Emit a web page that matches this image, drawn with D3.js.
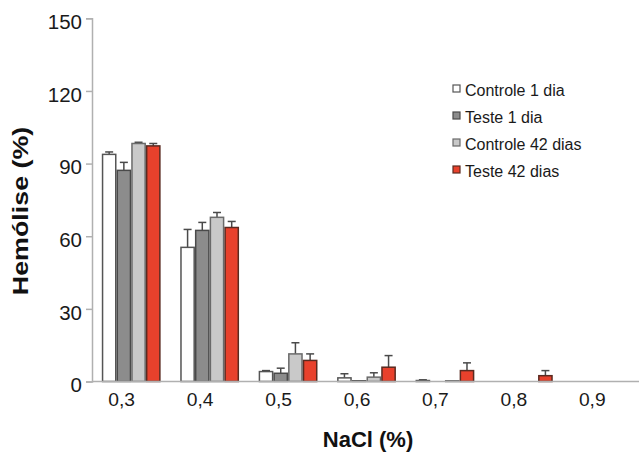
<!DOCTYPE html>
<html>
<head>
<meta charset="utf-8">
<script src="https://cdn.jsdelivr.net/npm/d3@7"></script>
<style>
  html, body { margin: 0; padding: 0; background: #fff; }
  svg { display: block; font-family: "Liberation Sans", Arial, Helvetica, sans-serif; }
</style>
</head>
<body>
<svg id="chart" width="639" height="452"></svg>
<script>
// ---- data ----
const categories = ["0,3", "0,4", "0,5", "0,6", "0,7", "0,8", "0,9"];
const seriesNames = ["Controle 1 dia", "Teste 1 dia", "Controle 42 dias", "Teste 42 dias"];
const controle1 = [93.8, 55.4, 4.1, 1.5, 0.4, 0, 0];
const controle1Err = [1.0, 7.4, 0.4, 1.7, 0.3, 0, 0];
const teste1 = [87.2, 62.4, 3.4, 0.3, 0, 0, 0];
const teste1Err = [3.3, 3.3, 2.1, 0, 0, 0, 0];
const controle42 = [98.3, 67.8, 11.4, 1.8, 0.3, 0, 0];
const controle42Err = [0.5, 2.0, 4.6, 1.8, 0, 0, 0];
const teste42 = [97.3, 63.6, 8.7, 5.9, 4.5, 2.4, 0];
const teste42Err = [1.0, 2.5, 2.7, 4.8, 3.2, 2.1, 0];
const yTicks = [0, 30, 60, 90, 120, 150];

const seriesValues = [controle1, teste1, controle42, teste42];
const seriesErrors = [controle1Err, teste1Err, controle42Err, teste42Err];
const fills = ["#ffffff", "#8c8c8c", "#c9c9c9", "#e8412c"];
const strokes = ["#555555", "#4a4a4a", "#6a6a6a", "#5a2a20"];

const svg = d3.select("#chart");
const x = d3.scaleBand().domain(categories).range([92, 641]).paddingInner(0.25).paddingOuter(0.125);
const xs = d3.scaleBand().domain(seriesNames).range([0, x.bandwidth()]);
const y = d3.scaleLinear().domain([0, 150]).range([381.5, 18.3]);

// y axis
const yAxis = svg.append("g").attr("transform", "translate(92,0)")
  .call(d3.axisLeft(y).tickValues(yTicks).tickSize(6).tickPadding(4));
yAxis.select(".domain").attr("stroke", "#b0b0b0").attr("stroke-width", 1.5);
yAxis.selectAll(".tick line").attr("stroke", "#b0b0b0").attr("stroke-width", 1.5);
yAxis.selectAll(".tick text").attr("font-size", 20.5).attr("fill", "#1a1a1a")
  .attr("font-family", "Liberation Sans, Arial, sans-serif").attr("dy", "0.5em");

// bars
const groups = svg.append("g");
categories.forEach((c, i) => {
  seriesNames.forEach((s, j) => {
    const v = seriesValues[j][i];
    const e = seriesErrors[j][i];
    const bx = x(c) + xs(s);
    const bw = xs.bandwidth();
    if (v > 0) {
      if (e > 0) {
        groups.append("line")
          .attr("x1", bx + bw / 2).attr("x2", bx + bw / 2)
          .attr("y1", y(v)).attr("y2", y(v + e))
          .attr("stroke", "#4a4a4a").attr("stroke-width", 1.5);
        groups.append("line")
          .attr("x1", bx + bw / 2 - 4).attr("x2", bx + bw / 2 + 4)
          .attr("y1", y(v + e)).attr("y2", y(v + e))
          .attr("stroke", "#4a4a4a").attr("stroke-width", 1.5);
      }
      groups.append("rect")
        .attr("x", bx + 0.75).attr("width", bw - 1.5)
        .attr("y", y(v)).attr("height", y(0) - y(v))
        .attr("fill", fills[j]).attr("stroke", strokes[j]).attr("stroke-width", 1.5);
    }
  });
});

// x axis line
svg.append("line").attr("x1", 92).attr("x2", 639).attr("y1", y(0)).attr("y2", y(0))
  .attr("stroke", "#b0b0b0").attr("stroke-width", 1.5);

// x tick labels
svg.append("g").selectAll("text").data(categories).join("text")
  .attr("x", d => x(d) + x.bandwidth() / 2 - 9.5)
  .attr("y", 406)
  .attr("text-anchor", "middle")
  .attr("font-size", 17.5).attr("fill", "#1a1a1a")
  .attr("transform", d => {
    const cx = x(d) + x.bandwidth() / 2 - 9.5;
    return `translate(${cx},0) scale(1.1,1) translate(${-cx},0)`;
  })
  .text(d => d);

// axis titles
svg.append("text").attr("x", 368).attr("y", 447).attr("text-anchor", "middle")
  .attr("font-size", 22).attr("font-weight", "bold").attr("fill", "#111")
  .text("NaCl (%)");
svg.append("text").attr("transform", "translate(28,211) rotate(-90) scale(1.22,1)")
  .attr("text-anchor", "middle")
  .attr("font-size", 22).attr("font-weight", "bold").attr("fill", "#111")
  .text("Hemólise (%)");

// legend
const legend = svg.append("g").attr("transform", "translate(453,0)");
seriesNames.forEach((s, j) => {
  const cy = 90 + j * 27;
  legend.append("rect").attr("x", 0).attr("y", cy - 5).attr("width", 7).attr("height", 7)
    .attr("fill", fills[j]).attr("stroke", strokes[j]).attr("stroke-width", 1.2);
  legend.append("text").attr("x", 12).attr("y", cy + 5.5)
    .attr("font-size", 16).attr("fill", "#1a1a1a").text(s);
});
</script>
</body>
</html>
